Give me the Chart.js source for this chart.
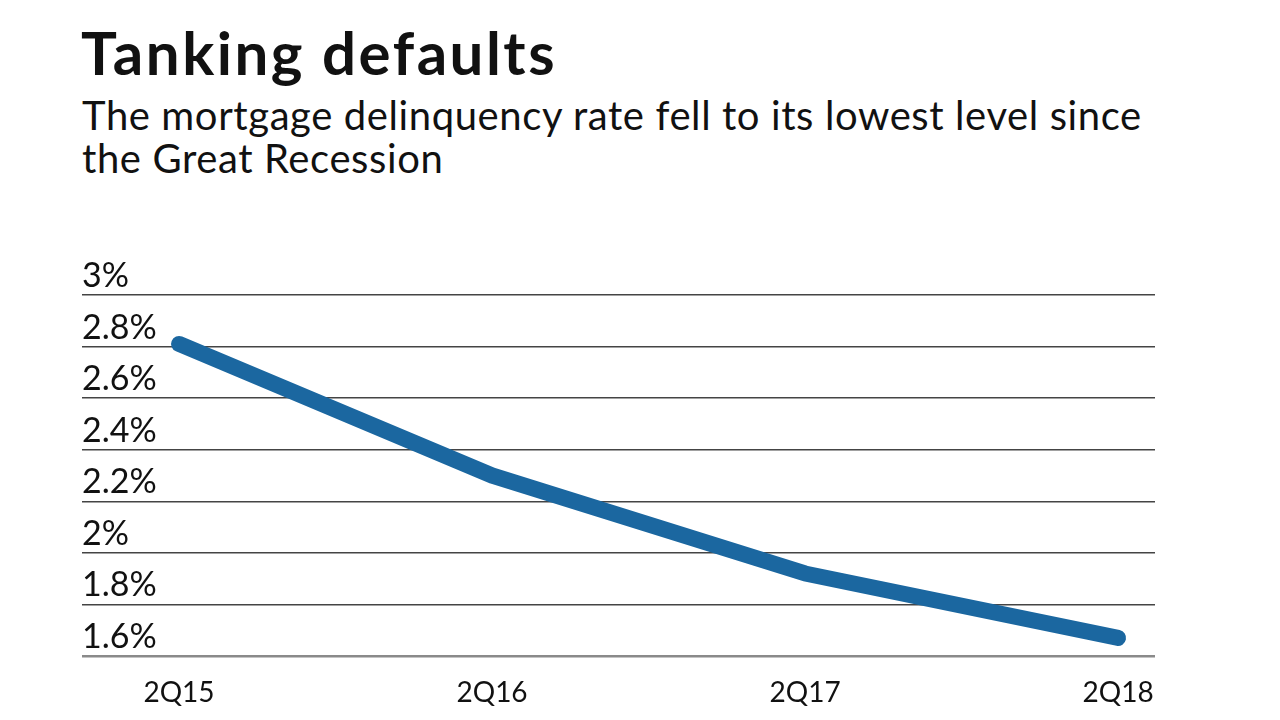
<!DOCTYPE html>
<html>
<head>
<meta charset="utf-8">
<script src="https://cdn.jsdelivr.net/npm/chart.js@4.4.0/dist/chart.umd.min.js"></script>
<style>
  body { margin: 0; background: #fff; width: 1280px; height: 720px; overflow: hidden; position: relative; font-family: Lato, sans-serif; }
  #titulo { position: absolute; left: 81px; top: 22px; font-size: 60px; font-weight: 700; color: #111; margin: 0; line-height: 1; letter-spacing: 2.5px; }
  #subtitulo { position: absolute; left: 82px; top: 94px; font-size: 40px; font-weight: 400; color: #111; margin: 0; line-height: 43px; width: 1180px; letter-spacing: 0.6px; }
  #grafica { position: absolute; left: 0; top: 0; }
</style>
</head>
<body>
<div id="titulo">Tanking defaults</div>
<div id="subtitulo">The mortgage delinquency rate fell to its lowest level since<br>the Great Recession</div>
<canvas id="grafica" width="1280" height="720"></canvas>
<script>
// datos
const trimestres = ["2Q15", "2Q16", "2Q17", "2Q18"];
const morosidad = [2.81, 2.30, 1.92, 1.67];
const ticksY = [1.6, 1.8, 2.0, 2.2, 2.4, 2.6, 2.8, 3.0];

const puntos = morosidad.map((v, i) => ({ x: i, y: v }));

const config = {
    type: "line",
    data: {
        datasets: [
            {
                label: "Tasa de morosidad",
                data: puntos,
                borderColor: "#1b67a0",
                borderWidth: 16,
                borderCapStyle: "round",
                borderJoinStyle: "round",
                pointRadius: 0,
                tension: 0,
                fill: false,
                clip: false,
            },
        ],
    },
    options: {
        responsive: false,
        animation: false,
        layout: {
            padding: { left: 82, right: 125, top: 295, bottom: 10 },
        },
        plugins: {
            legend: { display: false },
            tooltip: { enabled: false },
        },
        scales: {
            x: {
                type: "linear",
                min: -0.31,
                max: 3.118,
                afterBuildTicks: (axis) => {
                    axis.ticks = trimestres.map((t, i) => ({ value: i }));
                },
                afterFit: (axis) => {
                    axis.height = 54;
                },
                grid: { display: false, drawTicks: false },
                border: { display: false },
                ticks: {
                    callback: (value) => trimestres[value],
                    font: { family: "Lato", size: 28 },
                    color: "#111",
                    padding: 20,
                    maxRotation: 0,
                    autoSkip: false,
                },
            },
            y: {
                min: 1.6,
                max: 3.0,
                afterBuildTicks: (axis) => {
                    axis.ticks = ticksY.map((v) => ({ value: v }));
                },
                border: { display: false },
                grid: {
                    drawTicks: false,
                    color: (ctx) => (ctx.tick && Math.abs(ctx.tick.value - 1.6) < 0.001 ? "#8a8a8a" : "#444"),
                    lineWidth: (ctx) => (ctx.tick && Math.abs(ctx.tick.value - 1.6) < 0.001 ? 2.5 : 1.5),
                },
                ticks: {
                    mirror: true,
                    padding: 0,
                    labelOffset: -19,
                    font: { family: "Lato", size: 34 },
                    color: "#111",
                    callback: (value) => parseFloat(value.toFixed(1)) + "%",
                },
            },
        },
    },
};

const miGrafica = new Chart(document.getElementById("grafica"), config);
</script>
</body>
</html>
